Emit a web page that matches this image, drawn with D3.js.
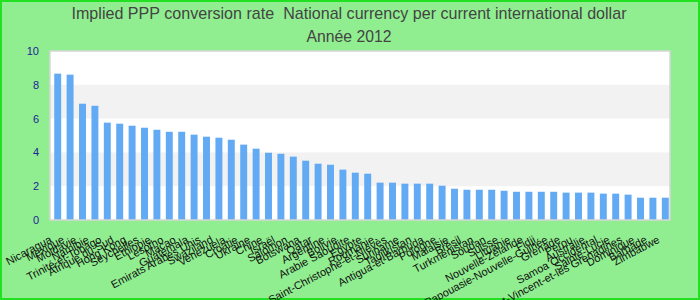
<!DOCTYPE html>
<html>
<head>
<meta charset="utf-8">
<script src="https://cdn.jsdelivr.net/npm/d3@7"></script>
<style>
    body { margin: 0; background: #90ee90; }
    svg { display: block; }
</style>
</head>
<body>
<svg id="chart" width="700" height="300"></svg>
<script>
// chart data
const countries = [
    "Nicaragua", "Mexique", "Moldavie", "Namibie", "Trinité-et-Tobago",
    "Afrique du Sud", "Hong Kong", "Seychelles", "Ethiopie", "Lesotho",
    "Macao", "Guatemala", "Emirats Arabes Unis", "Swaziland", "Venezuela",
    "Croatie", "Ukraine", "Chine", "Israël", "Salomon",
    "Botswana", "Qatar", "Argentine", "Bolivie", "Arabie Saoudite",
    "Egypte", "Roumanie", "Saint-Christophe-et-Niévès", "Suriname", "Tadjikistan",
    "Antigua-et-Barbuda", "Pologne", "Malaisie", "Brésil", "Turkménistan",
    "Soudan", "Suisse", "Lituanie", "Nouvelle-Zélande", "Fidji",
    "Papouasie-Nouvelle-Guinée", "Grenade", "Pérou", "Australie", "Samoa Occidental",
    "Sainte-Lucie", "Saint-Vincent-et-les Grenadines", "Dominique", "Barbade", "Zimbabwe"
];
const rates = [
    8.66, 8.60, 6.88, 6.76, 5.76,
    5.70, 5.58, 5.46, 5.34, 5.22,
    5.22, 5.05, 4.93, 4.87, 4.75,
    4.46, 4.22, 3.98, 3.92, 3.75,
    3.51, 3.33, 3.27, 2.98, 2.80,
    2.74, 2.21, 2.21, 2.15, 2.15,
    2.15, 2.03, 1.85, 1.79, 1.79,
    1.79, 1.73, 1.67, 1.67, 1.67,
    1.67, 1.62, 1.62, 1.62, 1.56,
    1.56, 1.50, 1.32, 1.32, 1.32
];
const yTicks = [0, 2, 4, 6, 8, 10];
const titleLines = [
    "Implied PPP conversion rate \u00a0National currency per current international dollar",
    "Année 2012"
];
const titleWidths = [555, 85];

const width = 700;
const height = 300;
const plot = { left: 50, right: 670, top: 51, bottom: 220 };
const barColor = "#62aaf3";

const svg = d3.select("#chart");

// background + outer green frame
svg.append("rect")
    .attr("x", 1)
    .attr("y", 1)
    .attr("width", width - 2)
    .attr("height", height - 2)
    .attr("fill", "#90ee90")
    .attr("stroke", "#22e022")
    .attr("stroke-width", 2);

// title (condensed look of the original)
svg.append("g")
    .attr("fill", "#444")
    .attr("font-family", "'Liberation Sans', Arial, sans-serif")
    .attr("font-size", 17)
    .attr("text-anchor", "middle")
    .selectAll("text")
    .data(titleLines)
    .join("text")
    .attr("x", 349)
    .attr("y", (d, i) => 19 + i * 23)
    .attr("textLength", (d, i) => titleWidths[i])
    .attr("lengthAdjust", "spacingAndGlyphs")
    .text(d => d);

const xScale = d3.scaleBand()
    .domain(countries)
    .range([plot.left + 1.5, plot.right + 1.5])
    .paddingInner(0.44)
    .paddingOuter(0.22);

const yScale = d3.scaleLinear()
    .domain([0, 10])
    .range([plot.bottom, plot.top]);

// plot background
svg.append("rect")
    .attr("x", plot.left)
    .attr("y", plot.top)
    .attr("width", plot.right - plot.left)
    .attr("height", plot.bottom - plot.top)
    .attr("fill", "white");

// alternating grey bands
const bands = d3.pairs(yTicks).filter((d, i) => i % 2 === 1);
svg.append("g")
    .selectAll("rect")
    .data(bands)
    .join("rect")
    .attr("x", plot.left)
    .attr("y", d => yScale(d[1]))
    .attr("width", plot.right - plot.left)
    .attr("height", d => yScale(d[0]) - yScale(d[1]))
    .attr("fill", "#f2f2f2");

// bars
svg.append("g")
    .selectAll("rect")
    .data(countries)
    .join("rect")
    .attr("x", d => xScale(d))
    .attr("y", (d, i) => yScale(rates[i]))
    .attr("width", xScale.bandwidth())
    .attr("height", (d, i) => yScale(0) - yScale(rates[i]))
    .attr("fill", barColor);

// plot frame
svg.append("rect")
    .attr("x", plot.left)
    .attr("y", plot.top)
    .attr("width", plot.right - plot.left)
    .attr("height", plot.bottom - plot.top)
    .attr("fill", "none")
    .attr("stroke", "#d6d6d6")
    .attr("stroke-width", 1.5);

// y axis (labels only)
const yAxis = d3.axisLeft(yScale)
    .tickValues(yTicks)
    .tickSize(0)
    .tickPadding(0)
    .tickFormat(d3.format("d"));

svg.append("g")
    .attr("transform", `translate(${plot.left - 11},0)`)
    .call(yAxis)
    .call(g => g.select(".domain").remove())
    .call(g => g.selectAll("text")
        .attr("fill", "#1c2496")
        .attr("font-family", "'Liberation Sans', Arial, sans-serif")
        .attr("font-size", 11));

// x axis labels, rotated (long ones run off the bottom, as in the original)
const xAxis = d3.axisBottom(xScale).tickSize(0).tickPadding(0);

svg.append("g")
    .attr("transform", `translate(0,${plot.bottom})`)
    .call(xAxis)
    .call(g => g.select(".domain").remove())
    .call(g => g.selectAll("text")
        .attr("fill", "#111")
        .attr("font-family", "'Liberation Sans', Arial, sans-serif")
        .attr("font-size", 11)
        .attr("text-anchor", "end")
        .attr("dy", null)
        .attr("y", 0)
        .attr("transform", "translate(-5,22) rotate(-28)"));
</script>
</body>
</html>
